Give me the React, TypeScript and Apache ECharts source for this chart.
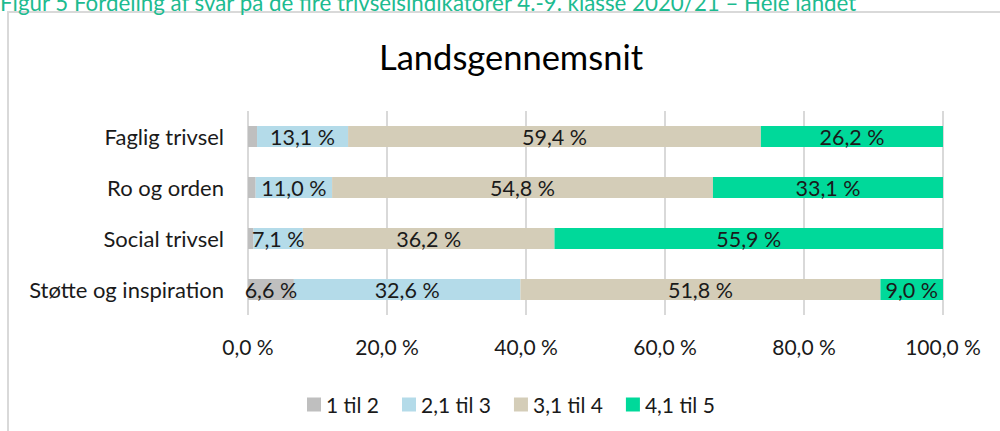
import React, { useEffect, useRef } from "react";
import * as echarts from "echarts";

const figureCaption =
  "Figur 5 Fordeling af svar på de fire trivselsindikatorer 4.-9. klasse 2020/21 – Hele landet";
const chartTitle = "Landsgennemsnit";
const categories = ["Faglig trivsel", "Ro og orden", "Social trivsel", "Støtte og inspiration"];
const seriesNames = ["1 til 2", "2,1 til 3", "3,1 til 4", "4,1 til 5"];
const s1til2 = [1.3, 1.1, 0.8, 6.6];
const s21til3 = [13.1, 11.0, 7.1, 32.6];
const s31til4 = [59.4, 54.8, 36.2, 51.8];
const s41til5 = [26.2, 33.1, 55.9, 9.0];
const seriesData = [s1til2, s21til3, s31til4, s41til5];
const seriesColors = ["#bfbfbf", "#b4dbe9", "#d4cdb8", "#00d99a"];
const xTicks = [0, 20, 40, 60, 80, 100];

const FONT = "Lato, 'Open Sans', sans-serif";

export default function App() {
  const ref = useRef<HTMLDivElement>(null);
  useEffect(() => {
    document.body.style.margin = "0";
    const chart = echarts.init(ref.current!, null, { renderer: "svg" });
    chart.setOption({
      animation: false,
      backgroundColor: "#ffffff",
      textStyle: { fontFamily: FONT },
      title: {
        text: chartTitle,
        left: 374,
        top: 34,
        textStyle: { fontFamily: FONT, fontSize: 34.5, fontWeight: "normal", color: "#000" },
      },
      graphic: [
        {
          type: "rect",
          shape: { x: 8, y: 12, width: 1010, height: 440 },
          style: { fill: "none", stroke: "#d9d9d9", lineWidth: 2 },
          silent: true,
        },
        {
          type: "text",
          x: 0,
          y: 13,
          style: {
            text: figureCaption,
            fontFamily: FONT,
            fontSize: 22.3,
            fill: "#1dbb90",
            verticalAlign: "bottom",
          },
          silent: true,
        },
      ],
      legend: {
        left: 302,
        top: 389,
        icon: "rect",
        itemWidth: 14,
        itemHeight: 14,
        itemGap: 23,
        textStyle: { fontFamily: FONT, fontSize: 21, color: "#1a1a1a" },
        data: seriesNames,
      },
      grid: { left: 248, right: 57, top: 111, bottom: 116, containLabel: false },
      xAxis: {
        type: "value",
        min: 0,
        max: 100,
        interval: 20,
        axisLine: { show: false },
        axisTick: { show: false },
        splitLine: { show: true, lineStyle: { color: "#d9d9d9", width: 2 } },
        axisLabel: {
          margin: 21,
          fontFamily: FONT,
          fontSize: 21,
          color: "#1a1a1a",
          formatter: (v: number) =>
            xTicks.includes(v) ? v.toFixed(1).replace(".", ",") + " %" : "",
        },
      },
      yAxis: {
        type: "category",
        inverse: true,
        data: categories,
        axisLine: { show: false },
        axisTick: { show: false },
        axisLabel: { margin: 24, fontFamily: FONT, fontSize: 22, color: "#1a1a1a" },
      },
      series: seriesNames.map((name, i) => ({
        name,
        type: "bar",
        stack: "total",
        barWidth: 21,
        itemStyle: { color: seriesColors[i] },
        label: {
          show: true,
          position: "inside",
          fontFamily: FONT,
          fontSize: 21.5,
          color: "#1a1a1a",
          formatter: (p: any) => (p.value >= 2 ? p.value.toFixed(1).replace(".", ",") + " %" : ""),
        },
        data: seriesData[i],
      })),
    });
    return () => chart.dispose();
  }, []);
  return <div ref={ref} style={{ width: 1000, height: 431 }} />;
}
